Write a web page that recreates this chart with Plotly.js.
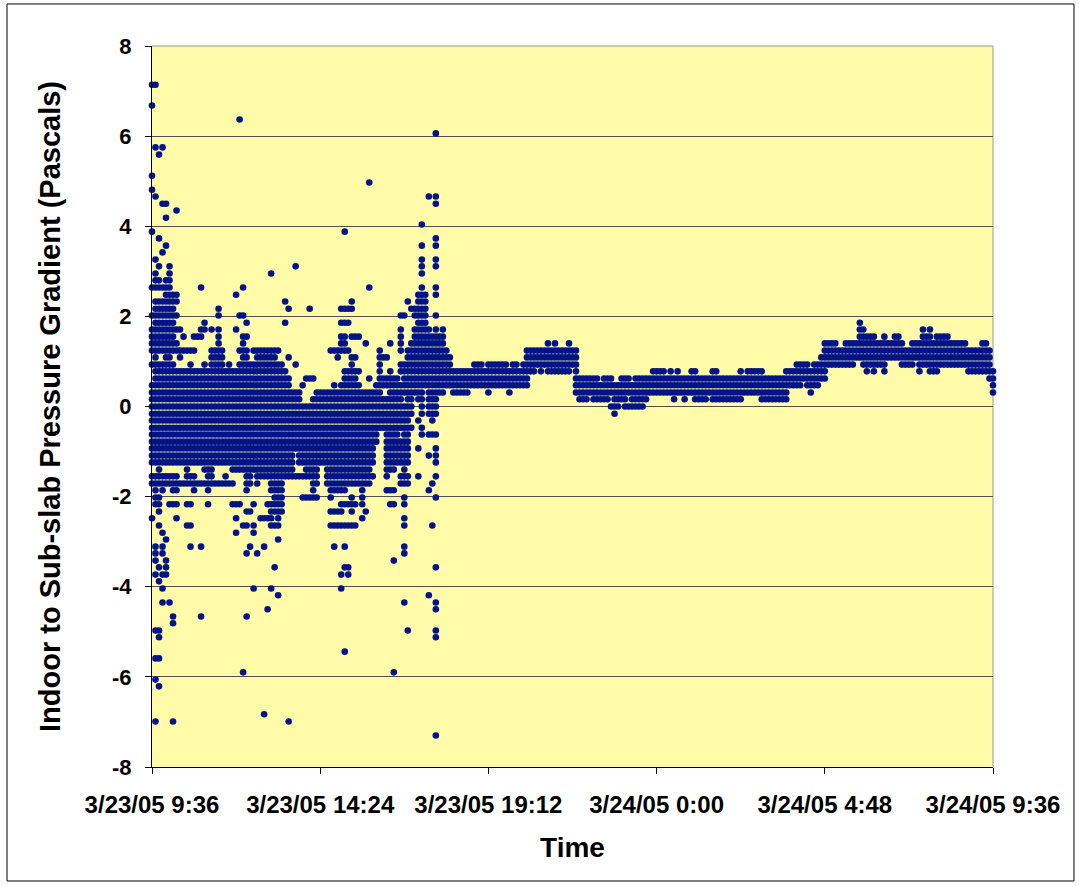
<!DOCTYPE html>
<html>
<head>
<meta charset="utf-8">
<script src="https://cdn.plot.ly/plotly-3.0.1.min.js"></script>
<style>html,body{margin:0;padding:0;background:#fff}#chart{width:1079px;height:886px}</style>
</head>
<body>
<div id="chart"></div>
<script>
// Samples every 6 minutes from 3/23/05 9:36 (sample index 0) to 3/24/05 9:36 (index 240)
const sampleStartUTC = Date.UTC(2005, 2, 23, 9, 36);
const sampleMinutes = 6;

// x-axis tick positions and labels
const tickTimes = ['2005-03-23 09:36','2005-03-23 14:24','2005-03-23 19:12','2005-03-24 00:00','2005-03-24 04:48','2005-03-24 09:36'];
const tickLabels = ['3/23/05 9:36','3/23/05 14:24','3/23/05 19:12','3/24/05 0:00','3/24/05 4:48','3/24/05 9:36'];
// y-axis ticks
const yTickVals = [-8,-6,-4,-2,0,2,4,6,8];
const yTickLabels = ['-8','-6','-4','-2','0','2','4','6','8'];

// Recorded pressure levels (Pa), instrument resolution ~0.155 Pa
const pressureLevels = [7.14,6.68,6.37,6.06,5.75,5.59,5.12,4.97,4.81,4.66,4.5,4.35,4.19,4.04,3.88,3.73,3.57,3.42,3.26,3.11,2.95,2.8,2.64,2.48,2.33,2.17,2.02,1.86,1.71,1.55,1.4,1.24,1.09,0.93,0.78,0.62,0.47,0.31,0.16,0,-0.16,-0.31,-0.47,-0.62,-0.78,-0.93,-1.09,-1.24,-1.4,-1.55,-1.71,-1.86,-2.02,-2.17,-2.33,-2.48,-2.64,-2.8,-2.95,-3.11,-3.26,-3.42,-3.57,-3.73,-3.88,-4.04,-4.19,-4.35,-4.5,-4.66,-4.81,-4.97,-5.12,-5.44,-5.59,-5.9,-6.06,-6.21,-6.83,-6.99,-7.3];

// For each level above: the sample indices at which that reading was recorded
const samplesAtLevel = [
[0,1],
[0],
[25],
[81],
[1,3],
[2],
[0],
[62],
[0],
[1,79,81],
[3,4,81],
[7],
[4],
[77],
[0,55],
[2,81],
[4,77,81],
[3],
[1,77,81],
[2,5,41,77,81],
[1,5,34,77],
[1,2,4,5],
[0,1,2,3,4,5,14,26,62,77,81],
[4,5,6,7,24,76,77,78,81],
[1,2,3,4,5,6,7,38,57,73,76,77,78],
[1,2,3,4,5,6,19,39,45,54,55,56,57,74,75,76,77,78],
[0,1,2,3,4,5,6,7,19,25,26,71,72,75,76,77,78,81],
[1,2,3,4,5,6,15,27,38,54,55,56,76,77,78,202],
[0,1,2,3,4,5,6,7,8,14,15,17,19,24,71,75,76,77,78,79,81,83,202,203,220,222],
[0,1,2,3,4,5,6,9,12,13,14,19,26,27,54,55,57,58,59,71,75,76,77,78,79,80,81,82,83,202,203,204,205,206,209,212,213,220,221,222,224,225,226,227],
[0,1,2,3,4,5,6,7,19,26,54,55,61,68,71,74,75,76,77,78,79,80,81,82,83,113,115,119,192,193,194,195,198,199,200,201,202,203,204,205,206,207,208,209,210,211,212,213,214,217,218,219,220,221,222,223,224,225,226,227,228,229,230,231,232,237,238],
[0,1,2,3,4,5,6,7,8,9,10,11,12,17,18,19,20,25,26,27,29,30,31,32,33,34,35,36,51,52,53,54,55,56,65,71,73,74,75,76,77,78,79,80,81,82,83,84,107,108,109,110,111,112,113,114,115,116,117,118,119,120,121,192,193,194,195,196,197,198,199,200,201,202,203,204,205,206,207,208,209,210,211,212,213,214,215,216,217,218,219,220,221,222,223,224,225,226,227,228,229,230,231,232,233,234,235,236,237,238,239],
[1,4,5,8,17,18,19,20,26,27,30,31,32,33,34,35,39,53,57,58,65,66,67,73,74,75,76,77,78,79,80,81,82,83,84,85,107,108,109,110,111,112,113,114,115,116,117,118,119,120,121,191,192,193,194,195,196,197,198,199,200,201,202,203,204,205,206,207,208,209,210,211,212,213,214,215,216,217,218,219,220,221,222,223,224,225,226,227,228,229,230,231,232,233,234,235,236,237,238,239],
[0,1,2,3,4,5,6,11,15,17,18,19,20,22,25,26,27,28,29,30,31,32,33,34,35,36,37,41,57,65,71,72,73,74,75,76,77,78,79,80,81,82,83,84,85,92,93,94,96,97,98,99,100,101,103,104,106,107,108,109,110,111,112,113,114,115,116,117,118,119,120,121,184,185,186,187,189,190,191,192,193,194,195,196,197,198,199,200,203,204,205,206,207,208,209,214,215,216,217,219,220,221,222,223,224,225,226,227,228,229,230,231,232,233,234,235,236,237,238,239],
[1,2,3,4,5,6,7,8,9,10,11,12,13,14,15,16,17,18,19,20,21,22,23,24,25,26,27,28,29,30,31,32,33,34,35,36,37,38,55,56,57,58,59,65,68,71,72,73,74,75,76,77,78,79,80,81,82,83,84,85,86,87,88,89,90,91,92,93,94,95,96,97,98,99,100,101,102,103,104,105,106,107,108,109,111,113,114,115,116,117,118,119,121,143,144,145,146,148,150,154,155,160,161,168,170,171,172,173,174,181,182,183,184,185,186,187,188,189,190,191,192,204,206,209,219,222,223,224,233,234,235,236,237,238,239,240],
[1,2,3,4,5,6,7,8,9,10,11,12,13,14,15,16,17,18,19,20,21,22,23,24,25,26,27,28,29,30,31,32,33,34,35,36,37,38,39,44,45,46,55,56,57,58,62,65,66,67,68,69,70,72,73,74,75,76,77,78,79,80,81,82,83,84,85,86,87,88,89,90,91,92,93,94,95,96,97,98,99,100,101,102,103,104,105,106,107,121,122,123,124,125,126,127,129,130,131,134,135,136,138,139,140,141,142,143,144,145,146,147,148,149,150,151,152,153,154,155,156,157,158,159,160,161,162,163,164,165,166,167,168,169,170,171,172,173,174,175,176,177,178,179,180,181,182,183,184,185,186,187,188,189,190,191,192,239,240],
[0,1,2,3,4,5,6,7,8,9,10,11,12,13,14,15,16,17,18,19,20,21,22,23,24,25,26,27,28,29,30,31,32,33,34,35,36,37,38,39,43,52,54,55,56,57,58,59,64,65,66,67,68,69,70,71,72,73,74,75,76,77,78,79,80,81,82,83,84,85,86,87,88,89,90,91,92,93,94,95,96,97,98,99,100,101,102,103,104,105,106,107,121,122,123,124,125,126,127,128,129,130,131,132,133,134,135,136,137,138,139,140,141,142,143,144,145,146,147,148,149,150,151,152,153,154,155,156,157,158,159,160,161,162,163,164,165,166,167,168,169,170,171,172,173,174,175,176,177,178,179,180,181,182,183,184,185,187,188,189,190,240],
[0,1,2,3,4,5,6,7,8,9,10,11,12,13,14,15,16,17,18,19,20,21,22,23,24,25,26,27,28,29,30,31,32,33,34,35,36,37,38,39,40,41,42,47,48,49,50,51,52,53,54,55,56,57,58,59,60,61,62,63,64,65,68,69,70,71,72,73,74,75,76,77,79,80,81,82,83,86,87,88,89,90,96,102,121,122,123,124,125,126,127,128,129,130,131,132,133,134,135,136,137,138,139,140,141,142,143,144,145,146,147,148,149,150,151,152,153,154,155,156,157,158,159,160,161,162,163,164,165,166,167,168,169,170,171,172,173,174,175,176,177,178,179,180,181,188,240],
[0,1,2,3,4,5,6,7,8,9,10,11,12,13,14,15,16,17,18,19,20,21,22,23,24,25,26,27,28,29,30,31,32,33,34,35,36,37,38,39,40,41,42,46,47,48,49,50,51,52,53,54,55,56,57,58,59,60,61,62,63,64,65,66,67,68,69,70,71,73,74,76,77,79,80,81,122,123,124,126,127,128,129,130,132,133,134,135,137,138,139,140,141,149,152,155,156,157,158,160,161,162,163,164,165,166,167,168,174,175,176,177,178,179,180,181],
[0,1,2,3,4,5,6,7,8,9,10,11,12,13,14,15,16,17,18,19,20,21,22,23,24,25,26,27,28,29,30,31,32,33,34,35,36,37,38,39,40,41,42,43,44,45,46,47,48,49,50,51,52,53,54,55,56,57,58,59,60,61,62,63,64,65,66,67,68,69,70,71,72,73,74,77,79,80,81,131,132,133,135,136,137,138,139,140],
[0,1,2,3,4,5,6,7,8,9,10,11,12,13,14,15,16,17,18,19,20,21,22,23,24,25,26,27,28,29,30,31,32,33,34,35,36,37,38,39,40,41,42,43,44,45,46,47,48,49,50,51,52,53,54,55,56,57,58,59,60,61,62,63,64,65,66,67,68,69,70,71,72,73,74,77,79,80,81,132],
[0,1,2,3,4,5,6,7,8,9,10,11,12,13,14,15,16,17,18,19,20,21,22,23,24,25,26,27,28,29,30,31,32,33,34,35,36,37,38,39,40,41,42,43,44,45,46,47,48,49,50,51,52,53,54,55,56,57,58,59,60,61,62,63,64,65,66,67,68,69,70,71,72,73,76,80],
[0,1,2,3,4,5,6,7,8,9,10,11,12,13,14,15,16,17,18,19,20,21,22,23,24,25,26,27,28,29,30,31,32,33,34,35,36,37,38,39,40,41,42,43,44,45,46,47,48,49,50,51,52,53,54,55,56,57,58,59,60,61,62,63,64,65,66,67,68,69,70,71,72,73,74,77],
[0,1,2,3,4,5,6,7,8,9,10,11,12,13,14,15,16,17,18,19,20,21,22,23,24,25,26,27,28,29,30,31,32,33,34,35,36,37,38,39,40,41,42,43,44,45,46,47,48,49,50,51,52,53,54,55,56,57,58,59,60,61,62,63,64,67,68,69,70,72,73,77,79,80,81],
[0,1,2,3,4,5,6,7,8,9,10,11,12,13,14,15,16,17,18,19,20,21,22,23,24,25,26,27,28,29,30,31,32,33,34,35,36,37,38,39,40,41,42,43,44,45,46,47,48,49,50,51,52,53,54,55,56,57,58,59,60,61,62,63,64,67,68,69,70,71,72,73],
[0,1,2,3,4,5,6,7,8,9,10,11,12,13,14,15,16,17,18,19,20,21,22,23,24,25,26,27,28,29,30,31,32,33,34,35,36,37,38,39,40,41,42,43,44,45,46,47,48,49,50,51,52,53,54,55,56,57,58,59,60,61,62,63,67,68,69,70,71,72,73,76,81],
[0,1,2,3,4,5,6,7,8,9,10,11,12,13,14,15,16,17,18,19,20,21,22,23,24,25,26,27,28,29,30,31,32,33,34,35,36,37,38,39,40,42,43,44,45,46,47,48,49,50,51,52,53,54,55,56,57,58,59,60,61,62,63,67,68,69,70,71,72,73,79,81],
[0,1,2,3,4,5,6,7,8,9,10,11,12,13,14,15,16,17,18,19,20,21,22,23,24,25,26,27,28,29,30,31,32,33,34,35,36,37,38,39,40,42,43,44,45,46,47,48,49,50,51,52,53,54,55,56,57,58,59,60,61,62,63,67,68,69,70,71,72,73,81],
[2,10,15,16,17,23,24,25,26,27,28,29,30,31,32,33,34,35,36,37,38,39,40,44,45,46,47,50,51,52,53,54,55,56,57,58,59,60,61,62,67,68,69,72],
[0,1,2,3,4,5,6,7,10,11,12,16,17,21,27,28,30,31,32,33,34,35,36,37,38,39,40,41,42,43,44,45,46,47,50,51,52,53,54,55,56,57,58,59,60,61,62,63,67,71,72,73,76,81],
[0,1,2,3,4,5,6,7,8,9,10,11,12,13,14,15,16,17,18,19,20,21,22,23,27,28,30,34,35,36,37,46,47,50,51,52,53,54,55,56,57,58,59,60,61,62,71,72,73,80],
[1,3,6,7,12,16,27,34,35,36,37,46,51,52,53,54,55,60,67,68,69,79],
[1,2,35,36,37,43,44,45,46,47,51,57,60,72,81],
[1,2,5,6,7,10,11,16,23,24,25,29,33,34,35,36,37,54,55,56,57,58,60,68,69,72],
[2,27,28,34,35,36,37,51,52,53,54,57,61],
[0,7,24,31,32,33,34,36,60,72],
[2,10,11,26,27,29,34,35,36,51,52,53,54,55,56,57,58,72,80],
[3,24,29],
[4,36],
[1,3,11,14,28,32,52,55,72],
[1,3,27,30,72],
[1,4,69],
[2,4,35,55,56,81],
[1,3,4,54,56],
[2],
[3,29,34,54],
[36,79],
[3,5,72,81],
[33,81],
[6,14,27],
[6],
[1,2,73,81],
[2,81],
[55],
[1,2],
[26,69],
[1],
[2],
[32],
[1,6,39],
[81]
];

function sampleTime(i) {
  return new Date(sampleStartUTC + i * sampleMinutes * 60000).toISOString().slice(0, 19).replace('T', ' ');
}

const xs = [], ys = [];
pressureLevels.forEach(function (lvl, j) {
  samplesAtLevel[j].forEach(function (idx) {
    xs.push(sampleTime(idx));
    ys.push(lvl);
  });
});

const FONT = 'Liberation Sans, Arial, Helvetica, sans-serif';

const trace = {
  type: 'scatter',
  mode: 'markers',
  x: xs,
  y: ys,
  cliponaxis: false,
  marker: { symbol: 'circle', size: 6.6, color: '#031488', line: { width: 0 } },
  hoverinfo: 'x+y'
};

const layout = {
  width: 1079,
  height: 886,
  margin: { l: 152, r: 86, t: 46, b: 119 },
  paper_bgcolor: '#FFFFFF',
  plot_bgcolor: '#FFFBA8',
  showlegend: false,
  font: { family: FONT, color: '#000000' },
  xaxis: {
    type: 'date',
    range: ['2005-03-23 09:36:00', '2005-03-24 09:36:00'],
    tickmode: 'array',
    tickvals: tickTimes,
    ticktext: tickLabels,
    tickangle: 0,
    ticks: 'outside',
    ticklen: 6,
    tickwidth: 1,
    tickcolor: '#000000',
    showline: true,
    linecolor: '#000000',
    linewidth: 1,
    showgrid: false,
    zeroline: false,
    tickfont: { family: FONT, size: 24, weight: 'bold', color: '#000000' },
    ticklabelstandoff: 10,
    title: { text: 'Time', font: { family: FONT, size: 28, weight: 'bold', color: '#000000' }, standoff: 20 },
    automargin: false
  },
  yaxis: {
    range: [-8, 8],
    tickmode: 'array',
    tickvals: yTickVals,
    ticktext: yTickLabels,
    ticks: 'outside',
    ticklen: 6,
    tickwidth: 1,
    tickcolor: '#000000',
    showline: true,
    linecolor: '#000000',
    linewidth: 1,
    showgrid: true,
    gridcolor: '#505050',
    gridwidth: 1,
    zeroline: false,
    tickfont: { family: FONT, size: 22, weight: 'bold', color: '#000000' },
    ticklabelstandoff: 9,
    title: { text: 'Indoor to Sub-slab Pressure Gradient (Pascals)', font: { family: FONT, size: 29, weight: 'bold', color: '#000000' }, standoff: 42 },
    automargin: false
  },
  shapes: [
    { type: 'line', xref: 'paper', yref: 'paper', x0: 0, x1: 1, y0: 1, y1: 1, line: { color: '#9A9A9A', width: 1 }, layer: 'below' },
    { type: 'line', xref: 'paper', yref: 'paper', x0: 1, x1: 1, y0: 0, y1: 1, line: { color: '#9A9A9A', width: 1 }, layer: 'below' },
    { type: 'rect', xref: 'paper', yref: 'paper', x0: -0.1724, x1: 1.0963, y0: -0.1581, y1: 1.0583, line: { color: '#000000', width: 1 }, fillcolor: 'rgba(0,0,0,0)', layer: 'above' }
  ]
};

Plotly.newPlot('chart', [trace], layout, { staticPlot: true, displayModeBar: false });
</script>
</body>
</html>
